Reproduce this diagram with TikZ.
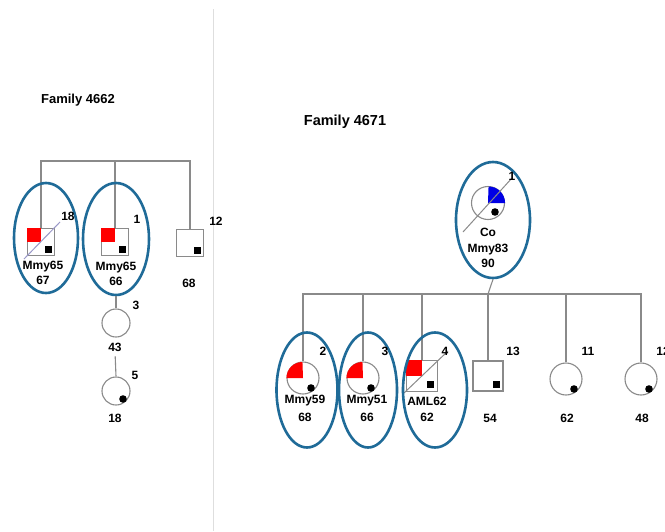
\documentclass[tikz,border=0pt]{standalone}
\usepackage{fontspec}
\setmainfont{Liberation Sans}
\usetikzlibrary{shapes.geometric,positioning}

\definecolor{linegray}{HTML}{8A8A8A}
\definecolor{ringblue}{HTML}{1F6B98}
\definecolor{slashblue}{HTML}{9A98C8}

\tikzset{
  male/.style={draw=linegray, line width=1.1pt, rectangle, minimum size=#1, inner sep=0pt},
  male/.default=27,
  female/.style={draw=linegray, line width=1.1pt, circle, minimum size=#1, inner sep=0pt},
  female/.default=32,
  ring/.style={draw=ringblue, line width=2.6pt, ellipse, inner sep=0pt},
  lbl/.style={font=\bfseries\fontsize{12}{12}\selectfont, inner sep=0pt},
  sib/.style={draw=linegray, line width=1.1pt},
}
% small markers inside the symbols
\newcommand{\boxmark}[2][4]{\fill ([shift={(#1,#1)}]#2.center) rectangle ++(7,7);}
\newcommand{\dotmark}[1]{\fill ([shift={(8,10)}]#1.center) circle (3.8);}

\begin{document}
\begin{tikzpicture}[x=1pt,y=-1pt]
\useasboundingbox (0,0) rectangle (665,531);
\fill[white] (0,0) rectangle (665,531);

% divider between the two families
\draw[black!13, line width=1pt] (213,9) -- (213,531);

%% family 4662
\node[lbl, font=\bfseries\fontsize{13}{13}\selectfont] (fam1) at (78,100) {Family 4662};

\node[male] (m18) at (41,242) {};
\node[male] (m1) at (115,242) {};
\node[male] (m12) at (190,243) {};
\fill[red] (m18.north west) rectangle (m18.center);
\fill[red] (m1.north west) rectangle (m1.center);
\boxmark{m18} \boxmark{m1} \boxmark{m12}
\draw[slashblue, line width=1pt] ([shift={(-3,3)}]m18.south west) -- ([shift={(5,-6)}]m18.north east);

\coordinate (top1) at (115,161);
\draw[sib] (m18.north) |- (top1) -| (m12.north);
\draw[sib] (top1) -- (m1.north);

\node[ring, minimum width=64, minimum height=110] (r18) at (46,238) {};
\node[ring, minimum width=66, minimum height=112] (r1) at (116,239) {};

\node[lbl] (n18) at (68,216) {18};
\node[lbl] (d18) at (43,267) {Mmy65};
\node[lbl] (a18) at (43,280) {67};
\node[lbl] (n1) at (137,219) {1};
\node[lbl] (d1) at (116,268) {Mmy65};
\node[lbl] (a1) at (116,281) {66};
\node[lbl] (n12) at (216,221) {12};
\node[lbl] (a12) at (189,283) {68};

\node[female=28] (f3) at (116,323) {};
\node[female=28] (f5) at (116,391) {};
\fill ([shift={(7,8)}]f5.center) circle (3.8);
\draw[sib] (r1.south) -- (f3.north);
\node[lbl] (n3) at (136,305) {3};
\node[lbl] (a3) at (115,347) {43};
\draw[sib, shorten <=5pt] (a3.south) -- (f5.north);
\node[lbl] (n5) at (135,375) {5};
\node[lbl] (a5) at (115,418) {18};

%% family 4671
\node[lbl, font=\bfseries\fontsize{14.5}{14.5}\selectfont] (fam2) at (345,122) {Family 4671};

\node[female=33] (fco) at (488,203) {};
\fill[blue!90!black] (fco.center) -- (fco.east) arc (0:-90:16.5) -- cycle;
\fill ([shift={(7,9)}]fco.center) circle (3.8);
\draw[linegray, line width=1pt] (463,232) -- (512,178);
\node[ring, minimum width=74, minimum height=116] (rco) at (493,220) {};
\node[lbl] (nco) at (512,176) {1};
\node[lbl] (cco) at (488,232) {Co};
\node[lbl] (dco) at (488,250) {Mmy83};
\node[lbl] (aco) at (488,263) {90};

\node[female] (f2) at (303,378) {};
\node[female] (f3b) at (363,378) {};
\node[male=31] (m4) at (422,376) {};
\node[male=30] (m13) at (488,376) {};
\node[female] (f11) at (566,379) {};
\node[female] (f12) at (641,379) {};

\fill[red] (f2.center) -- (f2.west) arc (180:270:16) -- cycle;
\fill[red] (f3b.center) -- (f3b.west) arc (180:270:16) -- cycle;
\fill[red] (m4.north west) rectangle (m4.center);
\dotmark{f2} \dotmark{f3b} \dotmark{f11} \dotmark{f12}
\boxmark[4.5]{m4} \boxmark[5]{m13}
\draw[linegray, line width=1pt] ([shift={(-2,1)}]m4.south west) -- ([shift={(10,-9)}]m4.north east);

\coordinate (top2) at (488,294);
\draw[sib] (rco.south) -- (top2);
\draw[sib] (f2.north) |- (top2) -| (f12.north);
\foreach \k in {f3b,m4,m13,f11}
  \draw[sib] (\k.north) -- (\k.north |- top2);

\node[ring, minimum width=61, minimum height=115] (r2) at (307,390) {};
\node[ring, minimum width=58, minimum height=115] (r3b) at (368,390) {};
\node[ring, minimum width=64, minimum height=115] (r4) at (435,390) {};

\node[lbl] (n2) at (323,351) {2};
\node[lbl] (d2) at (305,401) {Mmy59};
\node[lbl] (a2) at (305,417) {68};
\node[lbl] (n3b) at (385,351) {3};
\node[lbl] (d3b) at (367,401) {Mmy51};
\node[lbl] (a3b) at (367,417) {66};
\node[lbl] (n4) at (445,351) {4};
\node[lbl] (d4) at (427,401) {AML62};
\node[lbl] (a4) at (427,417) {62};
\node[lbl] (n13) at (513,351) {13};
\node[lbl] (a13) at (490,418) {54};
\node[lbl] (n11) at (588,351) {11};
\node[lbl] (a11) at (567,418) {62};
\node[lbl] (n12b) at (663,351) {12};
\node[lbl] (a12b) at (642,418) {48};
\end{tikzpicture}
\end{document}
